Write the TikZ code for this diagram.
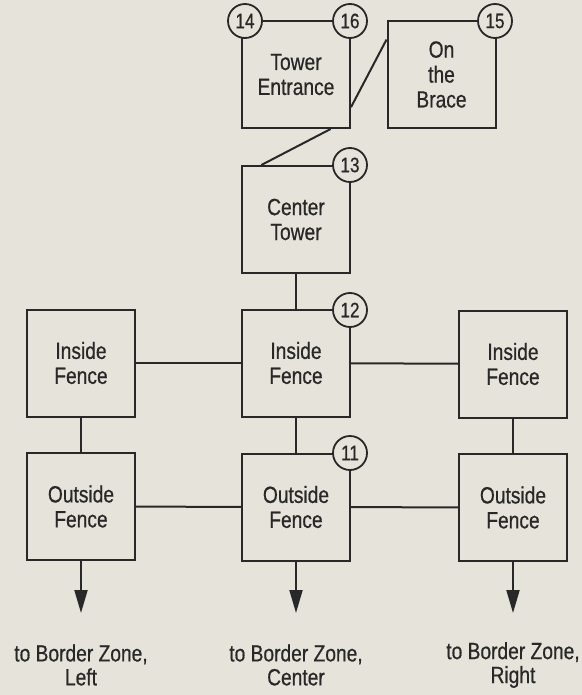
\documentclass[tikz,border=0pt]{standalone}
\usepackage{fontspec}
\setmainfont[FakeStretch=0.82,FakeBold=0.6]{Liberation Sans}
\usetikzlibrary{arrows.meta,calc}
\definecolor{bg}{RGB}{230,227,219}
\definecolor{ink}{RGB}{40,40,40}
\tikzset{
  box/.style={draw=ink, fill=bg, line width=2bp, minimum width=108bp, minimum height=107bp,
    align=center, text=ink, font=\fontsize{23.5}{25}\selectfont, inner sep=0pt},
  num/.style={circle, draw=ink, fill=bg, line width=1.8bp, minimum size=34bp,
    inner sep=0pt, text=ink, font=\fontsize{21}{22}\selectfont},
  conn/.style={draw=ink, line width=2bp},
  outarrow/.style={conn, -{Triangle[length=23bp,width=13bp]}},
  lbl/.style={align=center, text=ink, font=\fontsize{23.5}{24}\selectfont, inner sep=0pt}
}
\begin{document}
\begin{tikzpicture}[x=1bp,y=-1bp]
\fill[bg] (0,0) rectangle (582,695);
\useasboundingbox (0,0) rectangle (582,695);
% coordinates for arrow ends
\coordinate (al) at (81,613);
\coordinate (ac) at (296,613);
\coordinate (ar) at (513,613);
% boxes
\node[box] (te) at (296,74.5) {Tower\\Entrance};
\node[box] (ob) at (441.5,74.5) {On\\the\\Brace};
\node[box] (ct) at (296,219.5) {Center\\Tower};
\node[box] (il) at (81,363) {Inside\\Fence};
\node[box] (ic) at (296,363) {Inside\\Fence};
\node[box] (ir) at (513,364) {Inside\\Fence};
\node[box] (ol) at (81,506.5) {Outside\\Fence};
\node[box] (oc) at (296,507) {Outside\\Fence};
\node[box] (or) at (513,507.5) {Outside\\Fence};
% connectors
\draw[conn] ($(te.south east)!0.2!(te.north east)$) -- ($(ob.north west)!0.18!(ob.south west)$);
\draw[conn] ($(te.south west)!0.815!(te.south east)$) -- ($(ct.north west)!0.185!(ct.north east)$);
\draw[conn] (ct) -- (ic);
\draw[conn] (il) -- (ic);
\draw[conn] (ic) -- (ir);
\draw[conn] (il) -- (ol);
\draw[conn] (ic) -- (oc);
\draw[conn] (ir) -- (or);
\draw[conn] (ol) -- (oc);
\draw[conn] (oc) -- (or);
\draw[outarrow] (ol.south) -- (al);
\draw[outarrow] (oc.south) -- (ac);
\draw[outarrow] (or.south) -- (ar);
% numbered circles
\node[num] (n14) at (245,21) {14};
\node[num] (n16) at (350,21) {16};
\node[num] (n15) at (495,21) {15};
\node[num] (n13) at (350,165) {13};
\node[num] (n12) at (350,310) {12};
\node[num] (n11) at (350,453) {11};
% labels
\node[lbl] (ll) at (81,665) {to Border Zone,\\Left};
\node[lbl] (lc) at (296,665) {to Border Zone,\\Center};
\node[lbl] (lr) at (513,665) {to Border Zone,\\Right};
\end{tikzpicture}
\end{document}
